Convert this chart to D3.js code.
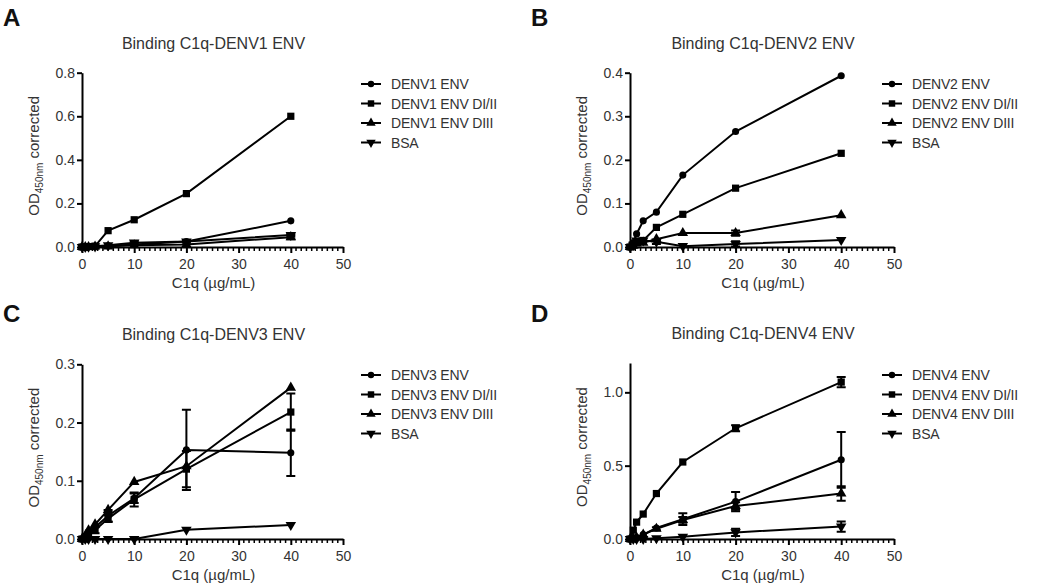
<!DOCTYPE html>
<html><head><meta charset="utf-8">
<script src="https://cdn.jsdelivr.net/npm/d3@7"></script>
<style>
body{margin:0;background:#fff;}
svg text{font-family:Arial,"Liberation Sans",Helvetica,sans-serif;}
</style></head>
<body><svg id="c" width="1050" height="585"></svg>
<script>
// ---- data ----
const concentrations = [0, 0.625, 1.25, 2.5, 5, 10, 20, 40];
const xTicks = [0, 10, 20, 30, 40, 50];

const titles = ["Binding C1q-DENV1 ENV", "Binding C1q-DENV2 ENV", "Binding C1q-DENV3 ENV", "Binding C1q-DENV4 ENV"];
const panelLetters = ["A", "B", "C", "D"];
const seriesNamesA = ["DENV1 ENV", "DENV1 ENV DI/II", "DENV1 ENV DIII", "BSA"];
const seriesNamesB = ["DENV2 ENV", "DENV2 ENV DI/II", "DENV2 ENV DIII", "BSA"];
const seriesNamesC = ["DENV3 ENV", "DENV3 ENV DI/II", "DENV3 ENV DIII", "BSA"];
const seriesNamesD = ["DENV4 ENV", "DENV4 ENV DI/II", "DENV4 ENV DIII", "BSA"];
const yTicksA = [0, 0.2, 0.4, 0.6, 0.8];
const yTicksB = [0, 0.1, 0.2, 0.3, 0.4];
const yTicksC = [0, 0.1, 0.2, 0.3];
const yTicksD = [0, 0.5, 1.0];
const yMax = [0.8, 0.4, 0.3, 1.2];

// Panel A
const denv1Env   = [0, 0, 0.002, 0.003, 0.005, 0.012, 0.025, 0.12];
const denv1DI    = [0, 0, 0.002, 0.004, 0.075, 0.125, 0.245, 0.6];
const denv1DIII  = [0, 0, 0, 0.002, 0.003, 0.008, 0.012, 0.045];
const bsaA       = [0, 0, 0.002, 0.003, 0.008, 0.02, 0.025, 0.055];
const errA = [[0,0,0,0,0,0,0,0],[0,0,0,0,0,0,0,0],[0,0,0,0,0,0,0,0.01],[0,0,0,0,0,0.005,0.005,0.008]];
// Panel B
const denv2Env   = [0, 0.01, 0.03, 0.06, 0.08, 0.165, 0.265, 0.393];
const denv2DI    = [0, 0.005, 0.01, 0.015, 0.045, 0.075, 0.135, 0.215];
const denv2DIII  = [0, 0.003, 0.008, 0.01, 0.018, 0.032, 0.032, 0.073];
const bsaB       = [0, 0.005, 0.015, 0.015, 0.012, 0.002, 0.007, 0.016];
const errB = [[0,0,0,0,0,0,0,0],[0,0,0,0,0,0,0,0],[0,0,0,0,0,0,0.006,0],[0,0,0,0,0.005,0,0.006,0]];
// Panel C
const denv3Env   = [0, 0.005, 0.012, 0.02, 0.04, 0.07, 0.153, 0.148];
const denv3DI    = [0, 0.003, 0.01, 0.015, 0.035, 0.068, 0.12, 0.218];
const denv3DIII  = [0, 0.005, 0.015, 0.025, 0.05, 0.098, 0.125, 0.26];
const bsaC       = [0, 0, 0, 0, 0, 0, 0.016, 0.024];
const errC = [[0,0,0,0,0.01,0.008,0.069,0.04],[0,0,0,0.005,0.006,0.012,0.031,0.032],[0,0,0,0,0,0,0,0],[0,0,0,0,0,0,0,0]];
// Panel D
const denv4Env   = [0, 0.005, 0.01, 0.03, 0.075, 0.135, 0.255, 0.54];
const denv4DI    = [0, 0.06, 0.115, 0.17, 0.31, 0.525, 0.755, 1.07];
const denv4DIII  = [0, 0.005, 0.01, 0.03, 0.07, 0.13, 0.225, 0.31];
const bsaD       = [0, 0, 0, 0, 0.005, 0.015, 0.045, 0.085];
const errD = [[0,0,0,0,0,0.04,0.065,0.19],[0,0,0,0,0,0,0.02,0.035],[0,0,0,0,0.01,0.02,0.025,0.05],[0,0,0,0,0,0,0.025,0.035]];

// ---- layout ----
const layout = [
  {x0:82, x1:343, y0:247, y1:72.7, lx:361, ly:84},
  {x0:630, x1:894, y0:247, y1:72.7, lx:882, ly:84},
  {x0:82, x1:343, y0:539, y1:364.3, lx:361, ly:375},
  {x0:630, x1:894, y0:539, y1:363, lx:882, ly:375}
];
const panels = [
  {series:[denv1Env, denv1DI, denv1DIII, bsaA], err:errA, names:seriesNamesA, yTicks:yTicksA},
  {series:[denv2Env, denv2DI, denv2DIII, bsaB], err:errB, names:seriesNamesB, yTicks:yTicksB},
  {series:[denv3Env, denv3DI, denv3DIII, bsaC], err:errC, names:seriesNamesC, yTicks:yTicksC},
  {series:[denv4Env, denv4DI, denv4DIII, bsaD], err:errD, names:seriesNamesD, yTicks:yTicksD}
];
const markerShapes = [d3.symbolCircle, d3.symbolSquare, d3.symbolTriangle, d3.symbolTriangle];
const markerSizes = [40, 52, 48, 48];
const markerRot = [0, 0, 0, 180];
const FONT = "Arial, 'Liberation Sans', Helvetica, sans-serif";

const svg = d3.select("#c");

panels.forEach((p, i) => {
  const L = layout[i];
  const g = svg.append("g").attr("font-family", FONT);
  const x = d3.scaleLinear().domain([0, 50]).range([L.x0, L.x1]);
  const y = d3.scaleLinear().domain([0, yMax[i]]).range([L.y0, L.y1]);

  // panel letter
  svg.append("text").attr("x", i % 2 ? 531 : 3).attr("y", i < 2 ? 26 : 322)
    .attr("font-size", 24).attr("font-weight", "bold").attr("fill", "#111")
    .attr("font-family", FONT).text(panelLetters[i]);

  // title
  g.append("text").attr("x", (L.x0 + L.x1) / 2 + 1).attr("y", L.y1 - 24)
    .attr("text-anchor", "middle").attr("font-size", 16).attr("fill", "#333").text(titles[i]);

  // x minor ticks
  const minor = d3.range(0, 51, 1).filter(v => v % 10 !== 0);
  g.selectAll(".mt").data(minor).join("line")
    .attr("x1", d => x(d)).attr("x2", d => x(d)).attr("y1", L.y0).attr("y2", L.y0 + 4)
    .attr("stroke", "#000").attr("stroke-width", 1.5);

  // x axis
  const xa = g.append("g").attr("transform", `translate(0,${L.y0})`)
    .call(d3.axisBottom(x).tickValues(xTicks).tickFormat(d3.format("d")).tickSizeInner(6).tickSizeOuter(0));
  xa.attr("font-family", FONT);
  xa.select(".domain").attr("stroke-width", 2);
  xa.selectAll(".tick line").attr("stroke-width", 2);
  xa.selectAll(".tick text").attr("font-size", 14).attr("fill", "#333").attr("dy", "0.9em");

  // y axis
  const ya = g.append("g").attr("transform", `translate(${L.x0},0)`)
    .call(d3.axisLeft(y).tickValues(p.yTicks).tickFormat(d3.format(".1f")).tickSizeInner(5).tickSizeOuter(0));
  ya.attr("font-family", FONT);
  ya.select(".domain").attr("stroke-width", 2);
  ya.selectAll(".tick line").attr("stroke-width", 2);
  ya.selectAll(".tick text").attr("font-size", 14).attr("fill", "#333").attr("x", -7);

  // x label
  g.append("text").attr("x", (L.x0 + L.x1) / 2 + 1).attr("y", L.y0 + 41)
    .attr("text-anchor", "middle").attr("font-size", 15).attr("fill", "#333").text("C1q (µg/mL)");

  // y label
  const yl = g.append("text")
    .attr("transform", `translate(${L.x0 - 43},${(L.y0 + L.y1) / 2 - 4}) rotate(-90)`)
    .attr("text-anchor", "middle").attr("font-size", 15).attr("fill", "#333");
  yl.append("tspan").text("OD");
  yl.append("tspan").attr("font-size", 10).attr("dy", 4).text("450nm");
  yl.append("tspan").attr("dy", -4).text(" corrected");

  // series
  const line = d3.line().x((d, k) => x(concentrations[k])).y(d => y(d));
  p.series.forEach((vals, s) => {
    const sg = g.append("g");
    const eb = vals.map((v, k) => ({v, e: p.err[s][k], c: concentrations[k]})).filter(d => d.e > 0);
    sg.selectAll(".eb").data(eb).join("path")
      .attr("d", d => {
        const xx = x(d.c), yt = y(d.v + d.e), yb = y(d.v - d.e);
        return `M${xx},${yt}V${yb}M${xx - 4.5},${yt}H${xx + 4.5}M${xx - 4.5},${yb}H${xx + 4.5}`;
      })
      .attr("stroke", "#000").attr("stroke-width", 2).attr("fill", "none");
    sg.append("path").datum(vals).attr("d", line)
      .attr("fill", "none").attr("stroke", "#000").attr("stroke-width", 2);
    sg.selectAll(".m").data(vals).join("path")
      .attr("transform", (d, k) => `translate(${x(concentrations[k])},${y(d)}) rotate(${markerRot[s]})`)
      .attr("d", d3.symbol().type(markerShapes[s]).size(markerSizes[s]))
      .attr("fill", "#000");
  });

  // legend
  p.names.forEach((n, s) => {
    const yy = L.ly + s * 19.5;
    g.append("line").attr("x1", L.lx).attr("x2", L.lx + 20).attr("y1", yy).attr("y2", yy)
      .attr("stroke", "#000").attr("stroke-width", 2);
    g.append("path").attr("transform", `translate(${L.lx + 10},${yy}) rotate(${markerRot[s]})`)
      .attr("d", d3.symbol().type(markerShapes[s]).size(markerSizes[s] * 0.8)).attr("fill", "#000");
    g.append("text").attr("x", L.lx + 30).attr("y", yy + 5).attr("font-size", 14)
      .attr("letter-spacing", -0.2).attr("fill", "#333").text(n);
  });
});
</script></body></html>
